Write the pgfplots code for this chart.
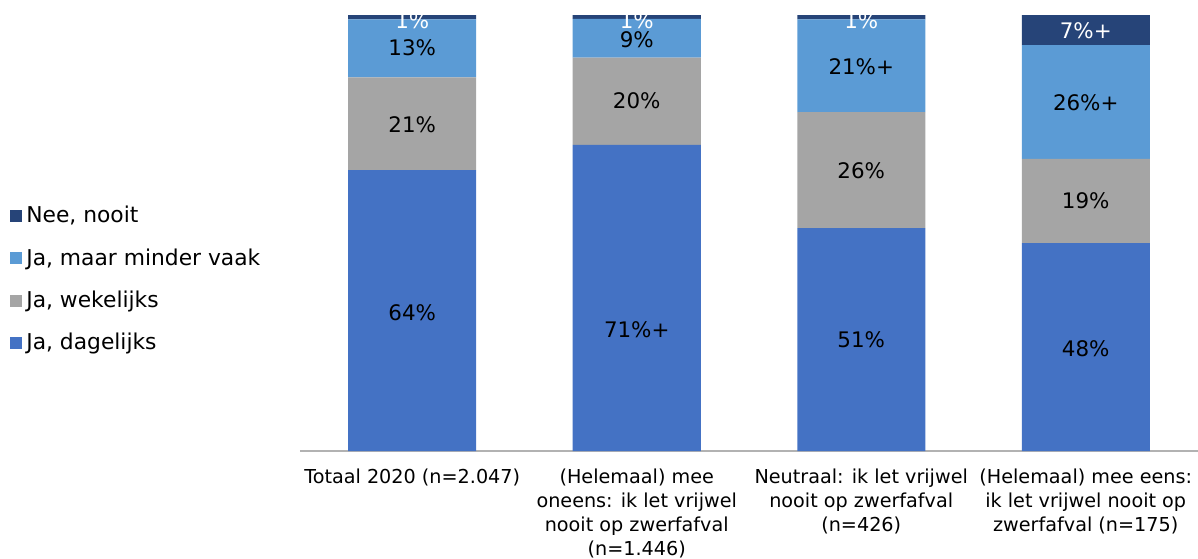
\documentclass[border=0pt]{standalone}
\usepackage{pgfplots}
\pgfplotsset{compat=1.18}
\usepackage{fontspec}
\setmainfont{DejaVu Sans}
\definecolor{cdag}{HTML}{4472C4}
\definecolor{cwek}{HTML}{A5A5A5}
\definecolor{cmin}{HTML}{5B9BD5}
\definecolor{cnooit}{HTML}{264478}

% aandeel per categorie (genormaliseerd naar 100)
\pgfplotstableread{
x dag wek min nooit
0 64.4 21.3 13.3 1.0
1 70.2 20.0 8.9 0.9
2 51.1 26.6 21.3 1.0
3 47.7 19.3 26.1 6.9
}\bars

\begin{document}
\begin{tikzpicture}
\pgfplotsset{
  base/.style={scale only axis, width=449pt, height=218pt,
    xmin=-0.5, xmax=3.5, ymin=0, ymax=100},
}
\begin{axis}[base, name=ax,
  ybar stacked, bar width=64pt,
  axis x line*=bottom, axis y line=none,
  axis line style={black!30, line width=0.8pt},
  xtick={0,1,2,3}, major tick length=0pt, ytick=\empty,
  xticklabels={{Totaal 2020 (n=2.047)},
    {(Helemaal) mee\\oneens: ik let vrijwel\\nooit op zwerfafval\\(n=1.446)},
    {Neutraal: ik let vrijwel\\nooit op zwerfafval\\(n=426)},
    {(Helemaal) mee eens:\\ik let vrijwel nooit op\\zwerfafval (n=175)}},
  xticklabel style={align=center, font=\fontsize{9.6}{12}\selectfont, yshift=-5.5pt},
  reverse legend,
  legend style={at={(-0.323,0.393)}, anchor=west, draw=none, inner sep=0pt,
    font=\fontsize{10.9}{12.5}\selectfont, row sep=7.4pt,
    cells={anchor=west}, nodes={inner sep=2pt}},
  legend image code/.code={\fill[#1] (0pt,-3pt) rectangle (6pt,3pt);},
]
\addplot[fill=cdag, draw=none] table[x=x, y=dag] {\bars};
\addplot[fill=cwek, draw=none] table[x=x, y=wek] {\bars};
\addplot[fill=cmin, draw=none] table[x=x, y=min] {\bars};
\addplot[fill=cnooit, draw=none] table[x=x, y=nooit] {\bars};
\legend{{Ja, dagelijks},{Ja, wekelijks},{Ja, maar minder vaak},{Nee, nooit}}
\end{axis}
% labels in de segmenten
\begin{axis}[base, hide axis, clip=false,
  nodes near coords, point meta=explicit symbolic,
  every node near coord/.style={anchor=center, font=\fontsize{10.7}{12}\selectfont}]
\addplot[only marks, mark=none, nodes near coords style={text=black}] coordinates {
 (0,31.7) [64\%] (0,74.8) [21\%] (0,92.4) [13\%]
 (1,27.8) [71\%+] (1,80.3) [20\%] (1,94.3) [9\%]
 (2,25.5) [51\%] (2,64.2) [26\%] (2,88.1) [21\%+]
 (3,23.4) [48\%] (3,57.3) [19\%] (3,79.8) [26\%+]
};
\addplot[only marks, mark=none, nodes near coords style={text=white}] coordinates {
 (0,98.6) [1\%] (1,98.6) [1\%] (2,98.6) [1\%] (3,96.3) [7\%+]
};
\end{axis}
\pgfresetboundingbox
\path ([xshift=-150pt,yshift=-53.5pt]ax.south west) rectangle ([yshift=7.5pt]ax.north east);
\end{tikzpicture}
\end{document}
